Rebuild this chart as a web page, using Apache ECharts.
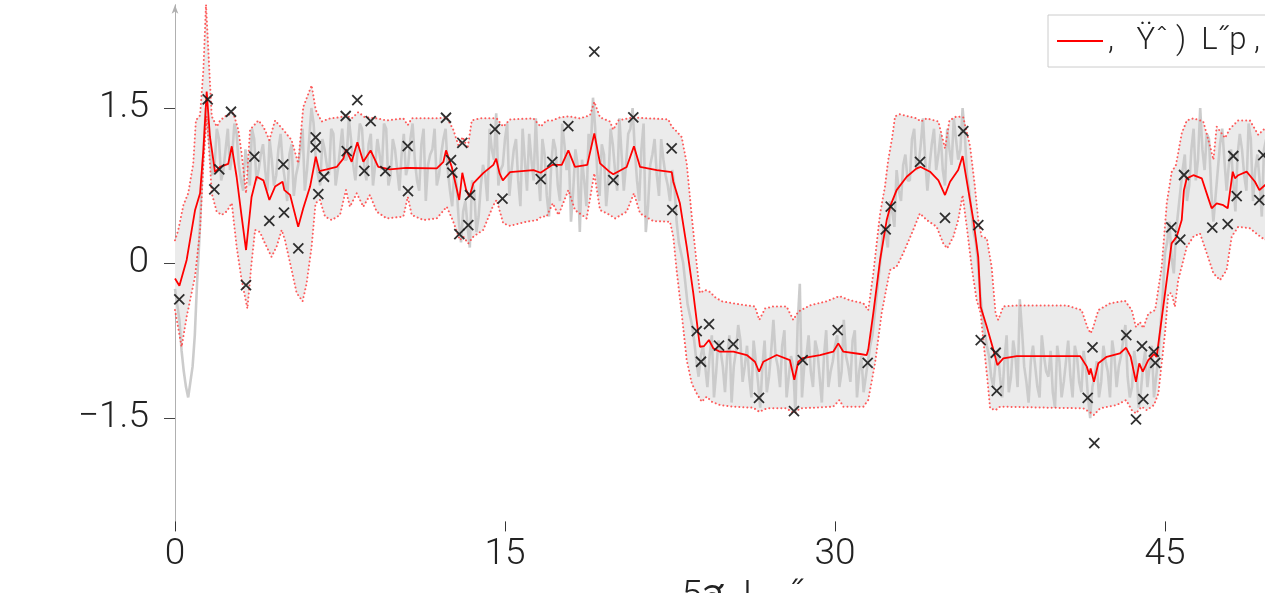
<!DOCTYPE html>
<html>
<head>
<meta charset="utf-8">
<script src="https://cdn.jsdelivr.net/npm/echarts@6/dist/echarts.min.js"></script>
<style>
html,body{margin:0;padding:0;background:#fff;overflow:hidden;width:1265px;height:593px;}
#chart{width:1330px;height:640px;}
</style>
</head>
<body>
<div id="chart"></div>
<script>
// ---- data ----
var LEGEND_NAME = ",   Ÿˆ )  L˝p ,";
var X_NAME = "5ส  L   ˝";
var X_TICKS = [0, 15, 30, 45];
var Y_TICKS = [-1.5, 0, 1.5];

// observations (black crosses)
var OBS = [
[0.195,-0.351],[1.486,1.584],[1.786,0.713],[2.014,0.907],[2.545,1.464],[3.227,-0.213],[3.605,1.029],[4.286,0.409],
[4.923,0.955],[4.955,0.487],[5.605,0.142],[6.395,1.216],[6.395,1.120],[6.514,0.668],[6.773,0.835],[7.759,1.423],
[7.805,1.084],[8.286,1.577],[8.605,0.893],[8.895,1.374],[9.559,0.890],[10.577,1.132],[10.591,0.697],[12.318,1.406],
[12.545,0.997],[12.605,0.874],[12.923,0.281],[13.059,1.164],[13.409,0.658],[13.332,0.368],[14.545,1.297],[14.886,0.624],
[16.623,0.813],[17.15,0.980],[17.877,1.326],[19.059,2.045],[19.923,0.803],[20.832,1.410],[22.577,1.110],[22.605,0.513],
[23.714,-0.658],[23.909,-0.955],[24.273,-0.590],[24.727,-0.800],[25.377,-0.784],[26.545,-1.304],[28.136,-1.432],[28.532,-0.939],
[30.123,-0.648],[31.486,-0.965],[32.305,0.326],[32.532,0.545],[33.864,0.980],[35.0,0.438],[35.832,1.277],[36.514,0.368],
[36.623,-0.745],[37.305,-0.868],[37.35,-1.236],[41.486,-1.304],[41.705,-0.816],[41.786,-1.742],[43.241,-0.697],[43.682,-1.513],
[43.955,-0.803],[44.014,-1.316],[44.491,-0.858],[44.559,-0.965],[45.286,0.345],[45.695,0.227],[45.864,0.852],[47.15,0.342],
[47.85,0.377],[48.105,1.036],[48.259,0.648],[49.286,0.610],[49.468,1.045],[50.3,0.9],[51.2,0.7]
];

// predictive mean (red line)
var MEAN = [
[0,-0.15],[0.2,-0.22],[0.53,0.03],[0.91,0.51],[1.14,0.675],[1.29,1.09],[1.44,1.66],[1.59,1.22],[1.82,0.88],[2.05,0.93],
[2.42,0.96],[2.58,1.13],[2.8,0.835],[3.03,0.45],[3.23,0.126],[3.48,0.64],[3.71,0.835],[4.02,0.80],[4.29,0.61],[4.55,0.74],
[4.89,0.787],[4.97,0.706],[5.23,0.66],[5.6,0.35],[5.83,0.53],[6.14,0.74],[6.4,1.03],[6.56,0.89],[6.9,0.907],[7.35,0.93],
[7.65,1.01],[7.77,1.10],[8.03,0.98],[8.29,1.17],[8.56,0.98],[8.89,1.09],[9.24,0.93],[9.77,0.907],[10.5,0.92],[10.58,0.935],
[10.66,0.92],[11.9,0.916],[12.2,0.98],[12.32,1.09],[12.58,0.93],[12.92,0.61],[13.06,0.874],[13.23,0.71],[13.38,0.64],[13.56,0.77],
[14.01,0.87],[14.47,0.95],[14.6,1.01],[14.75,0.87],[14.9,0.80],[15.23,0.88],[16.29,0.90],[16.62,0.874],[17.15,0.95],[17.58,0.95],
[17.88,1.09],[18.18,0.93],[18.74,0.95],[19.06,1.255],[19.32,0.965],[19.77,0.88],[19.92,0.86],[20.53,0.93],[20.86,1.13],[21.14,0.93],
[21.9,0.90],[22.58,0.88],[22.65,0.787],[22.95,0.578],[23.26,0.158],[23.56,-0.293],[23.86,-0.81],[24.05,-0.803],[24.27,-0.745],[24.47,-0.826],
[24.77,-0.858],[25.38,-0.858],[25.99,-0.89],[26.36,-0.955],[26.55,-1.052],[26.74,-0.955],[27.35,-0.89],[27.95,-0.94],[28.15,-1.13],[28.33,-0.955],
[28.53,-0.92],[29.32,-0.89],[29.92,-0.858],[30.15,-0.777],[30.38,-0.858],[31.14,-0.88],[31.44,-0.89],[31.51,-0.84],[31.74,-0.487],[32.05,0.03],
[32.35,0.416],[32.53,0.56],[32.8,0.706],[33.26,0.835],[33.71,0.916],[33.9,0.93],[34.32,0.884],[34.7,0.80],[35.0,0.658],[35.23,0.787],
[35.6,0.90],[35.8,1.035],[36.06,0.706],[36.29,0.416],[36.51,0.06],[36.62,-0.423],[36.9,-0.616],[37.2,-0.84],[37.38,-0.987],[37.65,-0.922],
[38.26,-0.90],[41.14,-0.90],[41.44,-1.0],[41.56,-1.08],[41.62,-1.02],[41.77,-1.15],[41.97,-0.97],[42.35,-0.907],[42.95,-0.874],[43.23,-0.82],
[43.44,-0.907],[43.68,-1.15],[43.83,-0.97],[43.99,-1.05],[44.24,-0.94],[44.5,-0.88],[44.62,-0.907],[44.92,-0.423],[45.3,0.19],[45.53,0.255],
[45.76,0.416],[45.86,0.706],[45.99,0.82],[46.29,0.85],[46.67,0.82],[46.97,0.626],[47.12,0.53],[47.35,0.578],[47.65,0.56],[47.85,0.53],
[48.08,0.884],[48.18,0.82],[48.33,0.85],[48.71,0.884],[49.09,0.787],[49.29,0.706],[49.55,0.755],[50.5,0.85],[51.6,0.85]
];

// upper confidence bound (red dotted)
var UPPER = [
[0,0.22],[0.15,0.32],[0.38,0.56],[0.6,0.675],[0.83,0.965],[0.95,1.38],[1.14,1.43],[1.29,1.87],[1.41,2.5],[1.56,1.87],
[1.67,1.42],[1.9,1.32],[2.05,1.38],[2.35,1.43],[2.65,1.45],[2.88,1.29],[3.03,1.06],[3.23,0.675],[3.41,1.29],[3.79,1.38],
[4.02,1.32],[4.29,1.19],[4.55,1.38],[4.92,1.29],[5.05,1.255],[5.3,1.19],[5.6,0.965],[5.83,1.51],[6.21,1.72],[6.4,1.48],
[6.67,1.37],[7.05,1.40],[7.5,1.41],[7.77,1.43],[8.03,1.40],[8.33,1.46],[8.64,1.41],[9.17,1.40],[9.62,1.38],[10.38,1.40],
[10.58,1.335],[10.76,1.40],[11.9,1.40],[12.35,1.41],[12.65,1.29],[12.88,1.14],[13.08,1.22],[13.3,1.11],[13.49,1.38],[13.86,1.40],
[14.62,1.40],[14.92,1.32],[15.23,1.39],[16.29,1.40],[16.62,1.32],[16.89,1.38],[17.15,1.38],[17.5,1.41],[17.88,1.42],[18.41,1.40],
[18.86,1.43],[19.06,1.56],[19.32,1.41],[19.77,1.37],[19.92,1.29],[20.15,1.38],[20.83,1.41],[21.59,1.40],[22.42,1.39],[22.58,1.32],
[22.73,1.29],[23.03,1.22],[23.26,0.965],[23.49,0.45],[23.71,0.0],[23.86,-0.29],[24.09,-0.26],[24.32,-0.28],[24.55,-0.33],[24.85,-0.37],
[25.38,-0.39],[25.99,-0.41],[26.36,-0.42],[26.56,-0.55],[26.82,-0.44],[27.2,-0.42],[27.8,-0.42],[28.1,-0.55],[28.33,-0.47],[28.86,-0.41],
[29.62,-0.37],[30.2,-0.32],[30.68,-0.36],[31.29,-0.39],[31.51,-0.455],[31.74,-0.1],[32.05,0.48],[32.27,0.74],[32.42,1.0],[32.58,1.19],
[32.73,1.42],[32.95,1.44],[33.71,1.40],[33.9,1.37],[34.17,1.40],[34.7,1.37],[35.0,1.11],[35.2,1.38],[35.53,1.42],[35.83,1.41],
[36.14,1.13],[36.36,0.74],[36.51,0.42],[36.67,0.255],[36.9,0.24],[37.12,-0.035],[37.3,-0.49],[37.42,-0.55],[37.65,-0.42],[38.26,-0.41],
[40.53,-0.41],[41.21,-0.455],[41.47,-0.62],[41.62,-0.68],[41.74,-0.62],[41.97,-0.455],[42.5,-0.39],[43.18,-0.365],[43.49,-0.455],[43.68,-0.62],
[43.86,-0.57],[44.01,-0.63],[44.24,-0.49],[44.55,-0.455],[44.85,-0.035],[45.08,0.58],[45.3,0.88],[45.5,0.95],[45.76,1.255],[45.99,1.38],
[46.29,1.40],[46.74,1.37],[47.05,1.13],[47.2,1.0],[47.35,1.32],[47.73,1.21],[47.95,1.30],[48.33,1.38],[48.86,1.38],[49.24,1.24],
[49.47,1.29],[50.2,1.38],[51.6,1.38]
];

// lower confidence bound (red dotted)
var LOWER = [
[0,-0.455],[0.3,-0.81],[0.53,-0.52],[0.91,-0.13],[1.14,0.32],[1.29,0.965],[1.44,1.42],[1.52,1.19],[1.67,0.675],[1.89,0.50],
[2.12,0.465],[2.35,0.50],[2.58,0.58],[2.8,0.16],[3.03,-0.165],[3.29,-0.44],[3.48,0.0],[3.64,0.32],[3.86,0.30],[4.09,0.19],
[4.39,0.06],[4.62,0.16],[4.85,0.32],[5.0,0.22],[5.23,0.0],[5.53,-0.29],[5.8,-0.37],[5.98,-0.2],[6.21,0.16],[6.39,0.58],
[6.59,0.61],[6.82,0.45],[7.12,0.416],[7.5,0.465],[7.77,0.706],[7.95,0.545],[8.26,0.675],[8.56,0.545],[8.86,0.658],[9.17,0.497],
[9.62,0.432],[10.38,0.45],[10.58,0.64],[10.76,0.465],[11.29,0.416],[11.9,0.432],[12.35,0.545],[12.62,0.416],[12.95,0.223],[13.1,0.255],
[13.33,0.19],[13.56,0.255],[14.01,0.32],[14.47,0.56],[14.62,0.61],[14.92,0.384],[15.23,0.36],[15.98,0.40],[16.44,0.416],[16.67,0.45],
[16.89,0.45],[17.17,0.578],[17.43,0.465],[17.88,0.706],[18.18,0.513],[18.71,0.432],[19.06,0.868],[19.32,0.513],[19.77,0.465],[20.0,0.432],
[20.53,0.497],[20.86,0.675],[21.14,0.48],[21.74,0.406],[22.5,0.40],[22.65,0.255],[22.8,-0.068],[23.03,-0.487],[23.26,-0.94],[23.49,-1.165],
[23.71,-1.26],[23.94,-1.342],[24.17,-1.294],[24.4,-1.342],[24.77,-1.374],[25.38,-1.39],[26.29,-1.40],[26.56,-1.44],[26.9,-1.406],[27.8,-1.406],
[28.15,-1.455],[28.41,-1.406],[29.92,-1.39],[30.2,-1.326],[30.38,-1.39],[31.29,-1.39],[31.51,-1.326],[31.82,-0.97],[32.12,-0.487],[32.35,-0.229],
[32.5,-0.068],[32.8,-0.035],[33.1,0.094],[33.49,0.287],[33.86,0.48],[34.17,0.416],[34.62,0.351],[34.92,0.19],[35.1,0.142],[35.38,0.255],
[35.6,0.416],[35.8,0.658],[35.99,0.351],[36.21,-0.035],[36.44,-0.358],[36.62,-0.487],[36.74,-0.745],[36.9,-1.068],[37.05,-1.406],[37.3,-1.423],
[37.5,-1.39],[41.29,-1.406],[41.56,-1.44],[41.77,-1.47],[42.05,-1.406],[42.8,-1.374],[43.23,-1.326],[43.49,-1.423],[43.68,-1.455],[43.94,-1.39],
[44.17,-1.423],[44.5,-1.374],[44.7,-1.26],[45.0,-0.68],[45.15,-0.293],[45.3,-0.293],[45.45,-0.423],[45.6,-0.165],[45.76,-0.035],[45.99,0.158],
[46.29,0.255],[46.59,0.287],[46.9,0.094],[47.2,-0.1],[47.5,-0.165],[47.8,-0.068],[48.03,0.255],[48.33,0.351],[48.86,0.336],[49.24,0.271],
[49.55,0.223],[50.2,0.3],[51.6,0.3]
];

// noisy ground-truth signal (grey line): GRAY_A at x = 0, 0.2, 0.4 ...; GRAY_B at x = 0.1, 0.3, 0.5 ...
var GRAY_X0 = 0, GRAY_DX = 0.2;
var GRAY_A = [
-0.25,-0.55,-1.05,-1.3,-1.0,-0.2,0.7,1.5,1.1,0.95,1.2,0.9,1.3,1.05,1.25,0.8,1.1,0.75,1.2,0.9,
1.15,0.7,1.0,0.85,1.25,0.8,1.05,0.65,0.95,1.3,0.9,1.5,1.0,0.75,1.1,0.85,1.25,0.9,1.3,1.0,
1.2,0.8,1.35,0.95,1.15,0.75,1.2,0.9,1.3,0.85,1.1,0.7,1.25,0.95,1.35,0.8,1.15,0.6,1.05,1.3,
0.85,1.2,0.9,0.55,0.75,0.2,0.6,0.15,0.7,0.45,0.95,0.6,1.1,1.45,0.9,1.2,0.65,1.1,0.8,1.3,
0.7,1.0,1.4,0.6,1.05,0.45,1.2,0.75,1.35,0.9,0.4,1.1,0.3,0.8,1.25,1.6,0.85,1.15,0.55,1.3,
0.9,1.4,0.7,1.25,1.5,0.8,1.1,0.3,0.95,1.2,0.65,1.0,0.75,0.9,0.4,0.1,-0.2,-0.5,-0.75,-1.1,
-0.8,-1.2,-0.7,-1.05,-0.85,-1.25,-0.7,-1.0,-0.6,-1.15,-0.8,-1.3,-0.95,-1.4,-0.75,-1.1,-0.55,-1.0,-0.8,-1.3,
-0.9,-1.45,-0.2,-1.0,-0.7,-1.2,-0.85,-1.35,-0.65,-1.05,-0.8,-1.2,-0.55,-1.0,-0.75,-1.3,-0.9,-1.1,-0.8,-0.5,
-0.1,0.35,0.15,0.5,0.9,0.6,1.05,0.8,1.3,0.95,1.4,0.7,1.15,0.9,1.25,0.75,1.1,1.4,1.0,1.5,
0.85,0.5,0.2,-0.3,-0.65,-0.9,-1.2,-0.85,-1.3,-0.7,-1.1,-0.9,-0.35,-1.0,-1.35,-0.8,-1.2,-0.7,-1.05,-0.85,
-1.4,-0.95,-1.15,-0.75,-1.3,-0.9,-1.25,-1.0,-1.5,-1.1,-1.3,-0.8,-1.05,-0.75,-1.2,-0.9,-0.6,-1.3,-0.85,-1.4,
-1.0,-1.2,-0.8,-1.1,-0.6,0.1,0.4,-0.1,0.5,0.9,0.6,1.1,0.8,1.5,0.9,1.2,0.4,0.9,1.3,0.7,
1.1,0.5,1.25,0.85,1.35,0.6,1.05,0.45,1.2,0.8,1.1,0.9,1.2,0.75,1.0,1.3,0.85,1.1,0.9
];
var GRAY_B = [
-0.4,-0.85,-1.2,-1.15,-0.7,0.2,1.1,1.3,0.85,1.3,
0.8,1.1,0.9,1.35,0.95,0.7,0.95,1.3,0.8,1.05,
0.9,1.2,0.75,1.1,0.95,0.6,1.15,0.85,1.1,0.7,
1.2,1.35,0.85,1.2,0.95,1.3,0.75,1.1,1.0,1.4,
0.95,1.1,1.3,0.8,1.25,0.95,1.05,1.35,0.75,1.2,
0.9,1.05,0.85,1.2,1.0,0.7,1.3,0.95,1.1,0.75,
1.05,1.3,0.7,0.9,0.4,0.5,0.35,0.8,0.3,0.75,
0.85,1.3,1.0,0.75,0.95,1.35,0.9,1.2,0.55,1.0,
1.25,0.8,0.9,1.2,0.65,0.95,1.1,0.6,1.15,1.05,
0.7,0.95,1.0,0.55,1.1,1.3,0.65,1.05,0.8,1.15,
0.7,1.05,0.95,1.3,1.1,0.6,1.35,0.55,1.05,0.85,
1.2,0.85,0.6,0.75,0.2,0.0,-0.4,-0.6,-0.95,-0.9,
-1.0,-0.9,-1.3,-0.75,-1.0,-0.9,-1.35,-0.85,-0.75,-1.0,
-1.1,-0.75,-1.15,-1.0,-1.25,-0.85,-0.9,-1.2,-0.65,-1.1,
-1.0,-0.6,-1.3,-0.9,-1.05,-0.75,-1.1,-0.9,-1.2,-0.95,
-0.7,-1.05,-0.9,-1.15,-0.65,-1.05,-1.25,-0.95,-0.7,-0.3,
0.1,0.3,0.6,0.35,0.7,0.95,0.8,1.2,0.9,1.15,
1.0,0.95,1.3,1.05,0.9,1.3,0.95,1.2,1.1,1.25,
0.7,0.3,0.0,-0.5,-0.8,-1.1,-0.95,-1.1,-0.95,-1.25,
-0.75,-1.2,-0.65,-1.15,-0.95,-1.0,-1.3,-0.9,-1.1,-1.25,
-0.8,-1.3,-0.95,-1.1,-0.8,-1.15,-0.85,-1.3,-1.2,-0.95,
-1.15,-0.95,-1.3,-0.9,-1.0,-0.75,-1.1,-1.2,-1.0,-1.25,
-0.85,-1.0,-1.3,-0.9,-0.3,0.2,0.05,0.3,0.7,1.05,
0.75,1.3,1.0,1.1,1.25,0.7,0.65,1.15,1.0,0.95,
0.8,1.05,1.1,0.7,1.2,0.9,0.8,1.1,0.65,1.25,
0.85,1.15,0.95,1.0,0.8,1.2,1.0,0.95
];

// ---- chart ----
var FONT = 'Roboto, "Open Sans", sans-serif';
var grayData = [];
GRAY_A.forEach(function (v, i) {
  grayData.push([GRAY_X0 + i * GRAY_DX, v]);
  if (i < GRAY_B.length) grayData.push([GRAY_X0 + i * GRAY_DX + GRAY_DX / 2, GRAY_B[i]]);
});
function fmtNum(v) { return v < 0 ? '\u2212' + String(Math.abs(v)) : String(v); }
var DOTS = {color: '#ff4040', width: 2, type: [0.01, 4], cap: 'round', opacity: 0.85};

var chart = echarts.init(document.getElementById('chart'), null, {renderer: 'canvas'});
chart.setOption({
  animation: false,
  backgroundColor: '#fff',
  grid: {left: 175, top: 4.7, width: 51.6 * 22, height: 516.7, containLabel: false},
  legend: {
    data: [{name: LEGEND_NAME, icon: 'rect'}],
    left: 1048, top: 15,
    padding: [10, 16, 10, 9],
    itemWidth: 46, itemHeight: 2, itemGap: 10,
    borderColor: '#cccccc', borderWidth: 1, backgroundColor: '#fff',
    selectedMode: false,
    textStyle: {fontFamily: FONT, fontSize: 31, fontWeight: 300, color: '#222', lineHeight: 32}
  },
  xAxis: {
    type: 'value', min: 0, max: 51.6, interval: 15,
    name: X_NAME, nameLocation: 'middle', nameGap: 49,
    nameTextStyle: {fontFamily: FONT, fontSize: 37, fontWeight: 300, color: '#222'},
    axisLine: {show: false, onZero: false},
    axisTick: {show: true, length: 10, lineStyle: {color: '#333', width: 1}, customValues: X_TICKS},
    axisLabel: {margin: 15, fontFamily: FONT, fontSize: 37, fontWeight: 300, color: '#222', customValues: X_TICKS},
    splitLine: {show: false}
  },
  yAxis: {
    type: 'value', min: -2.5, max: 2.5,
    axisLine: {show: true, onZero: false, lineStyle: {color: '#b0b0b0', width: 1}, symbol: ['none', 'arrow'], symbolSize: [5, 9], symbolOffset: [0, 0]},
    axisTick: {show: true, length: 11, lineStyle: {color: '#444', width: 1}, customValues: Y_TICKS},
    axisLabel: {margin: 26, fontFamily: FONT, fontSize: 37, fontWeight: 300, color: '#222', customValues: Y_TICKS, formatter: fmtNum},
    splitLine: {show: false}
  },
  series: [
    {
      type: 'custom', name: 'band', z: 1, silent: true,
      data: [[0, 0]],
      renderItem: function (params, api) {
        if (params.dataIndex !== 0) return;
        var pts = [];
        UPPER.forEach(function (p) { pts.push(api.coord(p)); });
        for (var i = LOWER.length - 1; i >= 0; i--) pts.push(api.coord(LOWER[i]));
        return {type: 'polygon', shape: {points: pts}, style: {fill: '#ebebeb', stroke: 'none'}};
      }
    },
    {
      type: 'line', name: 'truth', z: 2, data: grayData, symbol: 'none', silent: true,
      lineStyle: {color: '#c9c9c9', width: 2.6, opacity: 0.95}
    },
    {
      type: 'line', name: 'upper', z: 3, data: UPPER, symbol: 'none', silent: true,
      lineStyle: DOTS
    },
    {
      type: 'line', name: 'lower', z: 3, data: LOWER, symbol: 'none', silent: true,
      lineStyle: DOTS
    },
    {
      type: 'line', name: LEGEND_NAME, z: 4, data: MEAN, symbol: 'none',
      itemStyle: {color: '#ff0000'},
      lineStyle: {color: '#ff0000', width: 1.8}
    },
    {
      type: 'scatter', name: 'obs', z: 5, data: OBS,
      symbol: 'path://M0,0L10,10M10,0L0,10', symbolSize: 10,
      itemStyle: {color: 'rgba(0,0,0,0)', borderColor: '#1a1a1a', borderWidth: 1.8, opacity: 0.9}
    }
  ]
});
</script>
</body>
</html>
